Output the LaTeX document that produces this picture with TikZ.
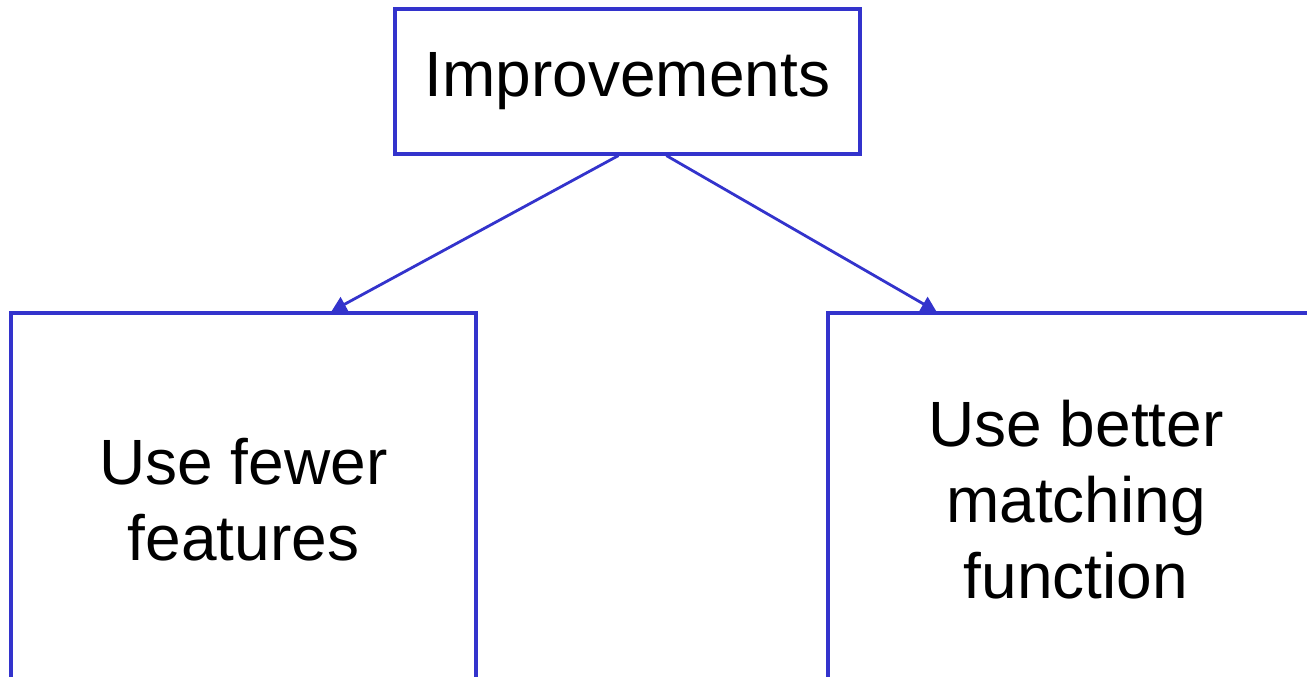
\documentclass[tikz,border=0pt]{standalone}
\usepackage{fontspec}
\setmainfont{Liberation Sans}
\usetikzlibrary{arrows.meta,calc}
\definecolor{boxblue}{RGB}{51,51,204}
\tikzset{
  box/.style={draw=boxblue, line width=3.2pt, fill=white, inner sep=0pt,
    font=\fontsize{64}{76}\selectfont, align=center},
  link/.style={draw=boxblue, line width=2.8pt, -{Triangle[width=16pt,length=15pt]}}
}
\begin{document}
\begin{tikzpicture}[x=1pt,y=-1pt]
  \useasboundingbox (0,0) rectangle (1307,677);
  \clip (0,0) rectangle (1307,677);
  \fill[white] (0,0) rectangle (1307,677);
  \node[box, minimum width=465pt, minimum height=145pt] (top) at (627.5,81.5) {Improvements};
  \node[box, minimum width=465pt, minimum height=374pt] (lbox) at (243.5,500) {Use fewer\\features};
  \node[box, minimum width=496pt, minimum height=374pt] (rbox) at (1076,500) {Use better\\matching\\function};
  \coordinate (s1) at ($(top.south west)+(225,0)$);
  \coordinate (s2) at ($(top.south west)+(273,0)$);
  \coordinate (e1) at ($(lbox.north west)+(322,0)$);
  \coordinate (e2) at ($(rbox.north west)+(110,0)$);
  \draw[link] (s1) -- (e1);
  \draw[link] (s2) -- (e2);
\end{tikzpicture}
\end{document}
